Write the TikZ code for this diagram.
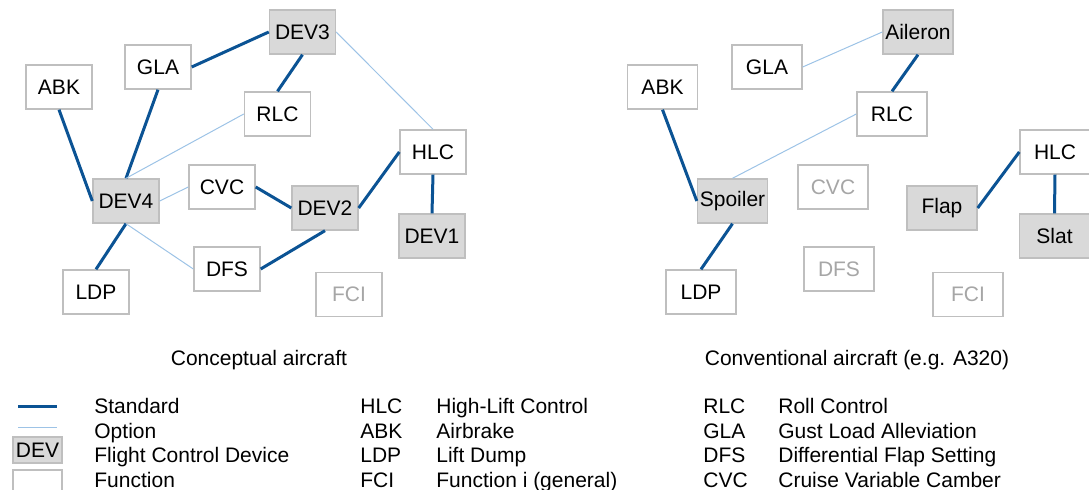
\documentclass[tikz,border=0pt]{standalone}
\usepackage{fontspec}
\setmainfont{Liberation Sans}
\usetikzlibrary{positioning}
\definecolor{FCSBlue}{HTML}{0B5394}
\definecolor{FCSLight}{HTML}{9DC3E6}
\definecolor{FCSFill}{HTML}{D9D9D9}
\definecolor{FCSBorder}{HTML}{BFBFBF}
\definecolor{FCSGray}{HTML}{A6A6A6}

\begin{document}
\begin{tikzpicture}[
      x=0.5pt,y=-0.5pt,
      funcbox/.style={rectangle,draw=FCSBorder,line width=0.7pt,fill=white,
        minimum width=33pt,minimum height=22pt,inner sep=0pt,
        font=\fontsize{10.5}{12}\selectfont},
      devbox/.style={funcbox,fill=FCSFill},
      offbox/.style={funcbox,text=FCSGray},
      wide/.style={minimum width=35pt},
      standard/.style={color=FCSBlue,line width=1.5pt},
      option/.style={color=FCSLight,line width=0.5pt},
      legtext/.style={anchor=base west,inner sep=0pt,
        font=\fontsize{10.5}{12}\selectfont},
      legbox/.style={funcbox,minimum width=24.5pt,minimum height=13pt}
    ]
      \useasboundingbox (0,0) rectangle (1089,490);

      % conceptual aircraft
      \node[funcbox] (abk) at (59,87) {ABK};
      \node[funcbox] (gla) at (158,67) {GLA};
      \node[devbox] (dev3) at (302.5,32) {DEV3};
      \node[funcbox] (rlc) at (277.5,114) {RLC};
      \node[funcbox] (hlc) at (433,152) {HLC};
      \node[devbox] (dev4) at (126,201) {DEV4};
      \node[funcbox] (cvc) at (222,187) {CVC};
      \node[devbox] (dev2) at (325,208) {DEV2};
      \node[devbox] (dev1) at (432,236) {DEV1};
      \node[funcbox] (dfs) at (227,269) {DFS};
      \node[funcbox] (ldp) at (96,292) {LDP};
      \node[offbox] (fci) at (349,294.5) {FCI};

      \draw[standard] (gla.east) -- (dev3.west);
      \draw[standard] (dev3.south) -- (rlc.north);
      \draw[option] (dev3.east) -- (hlc.north);
      \draw[standard] (gla.south) -- (dev4.north);
      \draw[standard] (abk.south) -- (dev4.west);
      \draw[option] (rlc.west) -- (dev4.north);
      \draw[option] (cvc.west) -- (dev4.east);
      \draw[standard] (cvc.east) -- (dev2.west);
      \draw[standard] (dev2.east) -- (hlc.west);
      \draw[standard] (hlc.south) -- (dev1.north);
      \draw[standard] (dev4.south) -- (ldp.north);
      \draw[option] (dev4.south) -- (dfs.west);
      \draw[standard] (dfs.east) -- (dev2.south);

      % conventional aircraft
      \node[funcbox,wide] (abk2) at (662.5,87) {ABK};
      \node[funcbox,wide] (gla2) at (767,67) {GLA};
      \node[devbox,wide] (ail) at (918,32) {Aileron};
      \node[funcbox,wide] (rlc2) at (892,114) {RLC};
      \node[funcbox,wide] (hlc2) at (1055,152) {HLC};
      \node[devbox,wide] (spl) at (732.5,201) {Spoiler};
      \node[offbox,wide] (cvc2) at (833,187) {CVC};
      \node[devbox,wide] (flap) at (942,208) {Flap};
      \node[devbox,wide] (slat) at (1054.5,236) {Slat};
      \node[offbox,wide] (dfs2) at (839,269) {DFS};
      \node[funcbox,wide] (ldp2) at (701,292) {LDP};
      \node[offbox,wide] (fci2) at (968,294.5) {FCI};

      \draw[option] (gla2.east) -- (ail.west);
      \draw[standard] (ail.south) -- (rlc2.north);
      \draw[standard] (abk2.south) -- (spl.west);
      \draw[option] (rlc2.west) -- (spl.north);
      \draw[standard] (spl.south) -- (ldp2.north);
      \draw[standard] (hlc2.west) -- (flap.east);
      \draw[standard] (hlc2.south) -- (slat.north);

      \node[font=\fontsize{10.5}{12}\selectfont] (cap1) at (259,360)
        {Conceptual aircraft};
      \node[font=\fontsize{10.5}{12}\selectfont] (cap2) at (857,360)
        {Conventional aircraft (e.g. A320)};

      % legend
      \coordinate (s1) at (18,407);
      \coordinate (s2) at (57,407);
      \coordinate (o1) at (18,428);
      \coordinate (o2) at (57,428);
      \draw[standard] (s1) -- (s2);
      \draw[option] (o1) -- (o2);
      \node[legbox,fill=FCSFill] (legdev) at (37.5,450) {DEV};
      \node[legbox] (legfun) at (37.5,483) {};

      \node[legtext] at (94,413.5) {Standard};
      \node[legtext] at (94,438.5) {Option};
      \node[legtext] at (94,462.5) {Flight Control Device};
      \node[legtext] at (94,487.5) {Function};

      \node[legtext] at (360,413.5) {HLC};
      \node[legtext] at (360,438.5) {ABK};
      \node[legtext] at (360,462.5) {LDP};
      \node[legtext] at (360,487.5) {FCI};
      \node[legtext] at (436,413.5) {High-Lift Control};
      \node[legtext] at (436,438.5) {Airbrake};
      \node[legtext] at (436,462.5) {Lift Dump};
      \node[legtext] at (436,487.5) {Function i (general)};

      \node[legtext] at (703,413.5) {RLC};
      \node[legtext] at (703,438.5) {GLA};
      \node[legtext] at (703,462.5) {DFS};
      \node[legtext] at (703,487.5) {CVC};
      \node[legtext] at (778,413.5) {Roll Control};
      \node[legtext] at (778,438.5) {Gust Load Alleviation};
      \node[legtext] at (778,462.5) {Differential Flap Setting};
      \node[legtext] at (778,487.5) {Cruise Variable Camber};
    \end{tikzpicture}
\end{document}
